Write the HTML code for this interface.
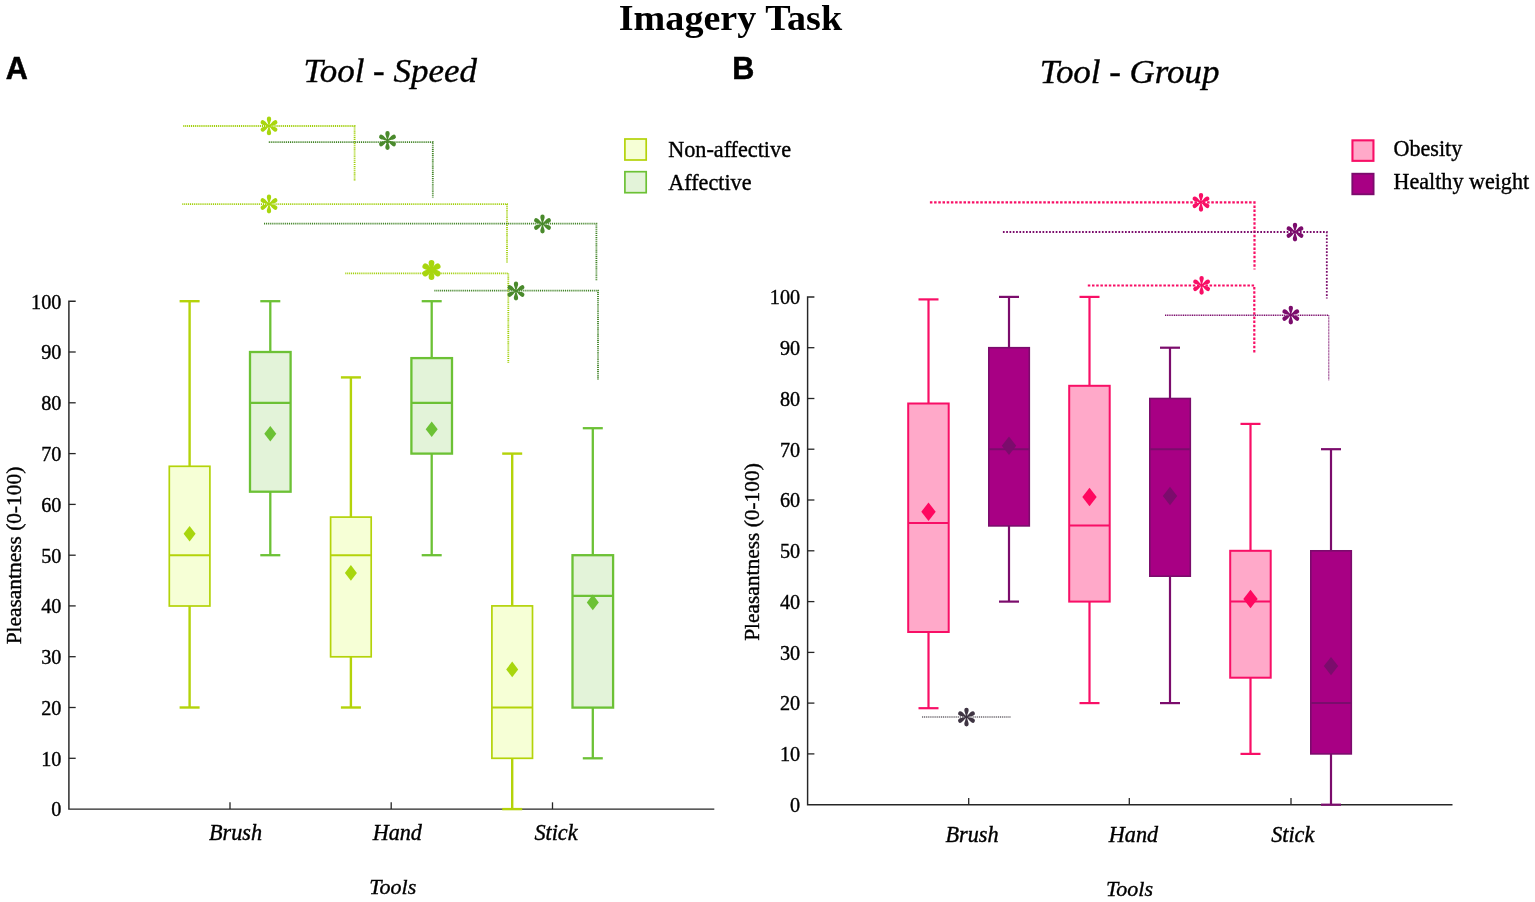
<!DOCTYPE html>
<html><head><meta charset="utf-8"><title>Imagery Task</title>
<style>
html,body{margin:0;padding:0;background:#fff;}
body{width:1535px;height:902px;overflow:hidden;}
svg{display:block;font-family:"Liberation Serif","Times New Roman",serif;fill:#000;}
.t{stroke:#000;stroke-width:0.38px;}
.sans{font-family:"Liberation Sans",Arial,sans-serif;font-weight:bold;stroke:#000;stroke-width:0.5px;}
</style></head><body>
<svg width="1535" height="902" viewBox="0 0 1535 902">
<rect width="1535" height="902" fill="#fff"/>

<text x="618.8" y="29.9" font-size="36.8" font-weight="bold" fill="#000" textLength="223.3" lengthAdjust="spacingAndGlyphs">Imagery Task</text>
<text class="sans" x="5.7" y="78.7" font-size="30.6" fill="#000">A</text>
<text class="sans" x="732.3" y="78.8" font-size="30.6" fill="#000">B</text>
<text class="t" x="390.2" y="81.5" font-size="34" font-style="italic" text-anchor="middle" textLength="173.3" lengthAdjust="spacingAndGlyphs">Tool - Speed</text>
<text class="t" x="1129.6" y="82.6" font-size="34" font-style="italic" text-anchor="middle" textLength="179.8" lengthAdjust="spacingAndGlyphs">Tool - Group</text>
<path d="M75.7,301.2 H68.9 V809.1 H714.3" fill="none" stroke="#262626" stroke-width="1.45" stroke-linejoin="miter"/><line x1="68.9" x2="75.7" y1="758.3" y2="758.3" stroke="#262626" stroke-width="1.3"/><line x1="68.9" x2="75.7" y1="707.5" y2="707.5" stroke="#262626" stroke-width="1.3"/><line x1="68.9" x2="75.7" y1="656.7" y2="656.7" stroke="#262626" stroke-width="1.3"/><line x1="68.9" x2="75.7" y1="605.9" y2="605.9" stroke="#262626" stroke-width="1.3"/><line x1="68.9" x2="75.7" y1="555.2" y2="555.2" stroke="#262626" stroke-width="1.3"/><line x1="68.9" x2="75.7" y1="504.4" y2="504.4" stroke="#262626" stroke-width="1.3"/><line x1="68.9" x2="75.7" y1="453.6" y2="453.6" stroke="#262626" stroke-width="1.3"/><line x1="68.9" x2="75.7" y1="402.8" y2="402.8" stroke="#262626" stroke-width="1.3"/><line x1="68.9" x2="75.7" y1="352.0" y2="352.0" stroke="#262626" stroke-width="1.3"/><text class="t" x="61.4" y="816.4" text-anchor="end" font-size="20.8" textLength="10.1" lengthAdjust="spacingAndGlyphs">0</text><text class="t" x="61.4" y="765.6" text-anchor="end" font-size="20.8" textLength="20.2" lengthAdjust="spacingAndGlyphs">10</text><text class="t" x="61.4" y="714.8" text-anchor="end" font-size="20.8" textLength="20.2" lengthAdjust="spacingAndGlyphs">20</text><text class="t" x="61.4" y="664.0" text-anchor="end" font-size="20.8" textLength="20.2" lengthAdjust="spacingAndGlyphs">30</text><text class="t" x="61.4" y="613.2" text-anchor="end" font-size="20.8" textLength="20.2" lengthAdjust="spacingAndGlyphs">40</text><text class="t" x="61.4" y="562.5" text-anchor="end" font-size="20.8" textLength="20.2" lengthAdjust="spacingAndGlyphs">50</text><text class="t" x="61.4" y="511.7" text-anchor="end" font-size="20.8" textLength="20.2" lengthAdjust="spacingAndGlyphs">60</text><text class="t" x="61.4" y="460.9" text-anchor="end" font-size="20.8" textLength="20.2" lengthAdjust="spacingAndGlyphs">70</text><text class="t" x="61.4" y="410.1" text-anchor="end" font-size="20.8" textLength="20.2" lengthAdjust="spacingAndGlyphs">80</text><text class="t" x="61.4" y="359.3" text-anchor="end" font-size="20.8" textLength="20.2" lengthAdjust="spacingAndGlyphs">90</text><text class="t" x="61.4" y="308.5" text-anchor="end" font-size="20.8" textLength="30.3" lengthAdjust="spacingAndGlyphs">100</text><line x1="230" x2="230" y1="809.1" y2="802.3" stroke="#262626" stroke-width="1.3"/><line x1="391.2" x2="391.2" y1="809.1" y2="802.3" stroke="#262626" stroke-width="1.3"/><line x1="552.5" x2="552.5" y1="809.1" y2="802.3" stroke="#262626" stroke-width="1.3"/><text class="t" x="235.5" y="840.2" font-style="italic" font-size="22.2" text-anchor="middle">Brush</text><text class="t" x="397.3" y="840.2" font-style="italic" font-size="22.2" text-anchor="middle">Hand</text><text class="t" x="556" y="840.2" font-style="italic" font-size="22.2" text-anchor="middle">Stick</text><text class="t" x="392.8" y="894.3" font-style="italic" font-size="22" text-anchor="middle">Tools</text><text class="t" transform="translate(20.7,555.5) rotate(-90)" font-size="21.4" text-anchor="middle">Pleasantness (0-100)</text>
<line x1="189.6" x2="189.6" y1="301.2" y2="466.3" stroke="#b4d30a" stroke-width="2.4"/><line x1="189.6" x2="189.6" y1="605.9" y2="707.5" stroke="#b4d30a" stroke-width="2.4"/><line x1="179.6" x2="199.6" y1="301.2" y2="301.2" stroke="#b4d30a" stroke-width="2.4"/><line x1="179.6" x2="199.6" y1="707.5" y2="707.5" stroke="#b4d30a" stroke-width="2.4"/><rect x="169.3" y="466.3" width="40.6" height="139.7" fill="#f6ffd6" stroke="#b4d30a" stroke-width="1.7"/><line x1="169.3" x2="209.9" y1="555.2" y2="555.2" stroke="#b4d30a" stroke-width="2.1"/><path d="M189.6,526.0 L195.6,533.8 L189.6,541.6 L183.6,533.8Z" fill="#a8d60e"/>
<line x1="270.3" x2="270.3" y1="301.2" y2="352.0" stroke="#6cc135" stroke-width="2.3"/><line x1="270.3" x2="270.3" y1="491.7" y2="555.2" stroke="#6cc135" stroke-width="2.3"/><line x1="260.3" x2="280.3" y1="301.2" y2="301.2" stroke="#6cc135" stroke-width="2.3"/><line x1="260.3" x2="280.3" y1="555.2" y2="555.2" stroke="#6cc135" stroke-width="2.3"/><rect x="250.0" y="352.0" width="40.6" height="139.7" fill="#e3f3d9" stroke="#6cc135" stroke-width="2.3"/><line x1="250.0" x2="290.6" y1="402.8" y2="402.8" stroke="#6cc135" stroke-width="2.3"/><path d="M270.3,426.0 L276.3,433.8 L270.3,441.6 L264.3,433.8Z" fill="#6cc135"/>
<line x1="350.9" x2="350.9" y1="377.4" y2="517.1" stroke="#b4d30a" stroke-width="2.4"/><line x1="350.9" x2="350.9" y1="656.7" y2="707.5" stroke="#b4d30a" stroke-width="2.4"/><line x1="340.9" x2="360.9" y1="377.4" y2="377.4" stroke="#b4d30a" stroke-width="2.4"/><line x1="340.9" x2="360.9" y1="707.5" y2="707.5" stroke="#b4d30a" stroke-width="2.4"/><rect x="330.6" y="517.1" width="40.6" height="139.7" fill="#f6ffd6" stroke="#b4d30a" stroke-width="1.7"/><line x1="330.6" x2="371.2" y1="555.2" y2="555.2" stroke="#b4d30a" stroke-width="2.1"/><path d="M350.9,565.1 L356.9,572.9 L350.9,580.7 L344.9,572.9Z" fill="#a8d60e"/>
<line x1="431.7" x2="431.7" y1="301.2" y2="358.1" stroke="#6cc135" stroke-width="2.3"/><line x1="431.7" x2="431.7" y1="453.6" y2="555.2" stroke="#6cc135" stroke-width="2.3"/><line x1="421.7" x2="441.7" y1="301.2" y2="301.2" stroke="#6cc135" stroke-width="2.3"/><line x1="421.7" x2="441.7" y1="555.2" y2="555.2" stroke="#6cc135" stroke-width="2.3"/><rect x="411.4" y="358.1" width="40.6" height="95.5" fill="#e3f3d9" stroke="#6cc135" stroke-width="2.3"/><line x1="411.4" x2="452.0" y1="402.8" y2="402.8" stroke="#6cc135" stroke-width="2.3"/><path d="M431.7,421.4 L437.7,429.2 L431.7,437.0 L425.7,429.2Z" fill="#6cc135"/>
<line x1="512.2" x2="512.2" y1="453.6" y2="605.9" stroke="#b4d30a" stroke-width="2.4"/><line x1="512.2" x2="512.2" y1="758.3" y2="809.1" stroke="#b4d30a" stroke-width="2.4"/><line x1="502.20000000000005" x2="522.2" y1="453.6" y2="453.6" stroke="#b4d30a" stroke-width="2.4"/><line x1="502.20000000000005" x2="522.2" y1="809.1" y2="809.1" stroke="#b4d30a" stroke-width="2.4"/><rect x="491.9" y="605.9" width="40.6" height="152.4" fill="#f6ffd6" stroke="#b4d30a" stroke-width="1.7"/><line x1="491.9" x2="532.5" y1="707.5" y2="707.5" stroke="#b4d30a" stroke-width="2.1"/><path d="M512.2,661.6 L518.2,669.4 L512.2,677.2 L506.20000000000005,669.4Z" fill="#a8d60e"/>
<line x1="592.8" x2="592.8" y1="428.2" y2="555.2" stroke="#6cc135" stroke-width="2.3"/><line x1="592.8" x2="592.8" y1="707.5" y2="758.3" stroke="#6cc135" stroke-width="2.3"/><line x1="582.8" x2="602.8" y1="428.2" y2="428.2" stroke="#6cc135" stroke-width="2.3"/><line x1="582.8" x2="602.8" y1="758.3" y2="758.3" stroke="#6cc135" stroke-width="2.3"/><rect x="572.5" y="555.2" width="40.6" height="152.4" fill="#e3f3d9" stroke="#6cc135" stroke-width="2.3"/><line x1="572.5" x2="613.1" y1="595.8" y2="595.8" stroke="#6cc135" stroke-width="2.3"/><path d="M592.8,594.6 L598.8,602.4 L592.8,610.2 L586.8,602.4Z" fill="#6cc135"/>
<path d="M183.3,126.0 L354.6,126.0 L354.6,180.4" fill="none" stroke="#a0cf08" stroke-width="1.8" stroke-dasharray="1.05 0.87"/>
<path d="M268.8,142.2 L432.8,142.2 L432.8,197.5" fill="none" stroke="#3f8224" stroke-width="1.8" stroke-dasharray="1.05 0.87"/>
<path d="M182.3,204.1 L507.0,204.1 L507.0,263.0" fill="none" stroke="#a0cf08" stroke-width="1.8" stroke-dasharray="1.05 0.87"/>
<path d="M264.0,223.7 L596.4,223.7 L596.4,280.3" fill="none" stroke="#3f8224" stroke-width="1.8" stroke-dasharray="1.05 0.87"/>
<path d="M345.3,273.3 L508.3,273.3 L508.3,362.8" fill="none" stroke="#a0cf08" stroke-width="1.8" stroke-dasharray="1.05 0.87"/>
<path d="M434.4,290.6 L598.0,290.6 L598.0,379.4" fill="none" stroke="#3f8224" stroke-width="1.8" stroke-dasharray="1.05 0.87"/>
<g transform="translate(269.0,125.9) scale(1.0)" fill="#a8d60e"><path transform="rotate(30)" d="M0,-0.60 C3.62,-0.70 4.35,-2.15 7.25,-2.15 A2.15,2.15 0 1 1 7.25,2.15 C4.35,2.15 3.62,0.70 0,0.60Z"/><path transform="rotate(90)" d="M0,-0.60 C3.62,-0.70 4.35,-2.15 7.25,-2.15 A2.15,2.15 0 1 1 7.25,2.15 C4.35,2.15 3.62,0.70 0,0.60Z"/><path transform="rotate(150)" d="M0,-0.60 C3.62,-0.70 4.35,-2.15 7.25,-2.15 A2.15,2.15 0 1 1 7.25,2.15 C4.35,2.15 3.62,0.70 0,0.60Z"/><path transform="rotate(210)" d="M0,-0.60 C3.62,-0.70 4.35,-2.15 7.25,-2.15 A2.15,2.15 0 1 1 7.25,2.15 C4.35,2.15 3.62,0.70 0,0.60Z"/><path transform="rotate(270)" d="M0,-0.60 C3.62,-0.70 4.35,-2.15 7.25,-2.15 A2.15,2.15 0 1 1 7.25,2.15 C4.35,2.15 3.62,0.70 0,0.60Z"/><path transform="rotate(330)" d="M0,-0.60 C3.62,-0.70 4.35,-2.15 7.25,-2.15 A2.15,2.15 0 1 1 7.25,2.15 C4.35,2.15 3.62,0.70 0,0.60Z"/></g>
<g transform="translate(387.5,140.5) scale(1.0)" fill="#4a8a2c"><path transform="rotate(30)" d="M0,-0.60 C3.62,-0.70 4.35,-2.15 7.25,-2.15 A2.15,2.15 0 1 1 7.25,2.15 C4.35,2.15 3.62,0.70 0,0.60Z"/><path transform="rotate(90)" d="M0,-0.60 C3.62,-0.70 4.35,-2.15 7.25,-2.15 A2.15,2.15 0 1 1 7.25,2.15 C4.35,2.15 3.62,0.70 0,0.60Z"/><path transform="rotate(150)" d="M0,-0.60 C3.62,-0.70 4.35,-2.15 7.25,-2.15 A2.15,2.15 0 1 1 7.25,2.15 C4.35,2.15 3.62,0.70 0,0.60Z"/><path transform="rotate(210)" d="M0,-0.60 C3.62,-0.70 4.35,-2.15 7.25,-2.15 A2.15,2.15 0 1 1 7.25,2.15 C4.35,2.15 3.62,0.70 0,0.60Z"/><path transform="rotate(270)" d="M0,-0.60 C3.62,-0.70 4.35,-2.15 7.25,-2.15 A2.15,2.15 0 1 1 7.25,2.15 C4.35,2.15 3.62,0.70 0,0.60Z"/><path transform="rotate(330)" d="M0,-0.60 C3.62,-0.70 4.35,-2.15 7.25,-2.15 A2.15,2.15 0 1 1 7.25,2.15 C4.35,2.15 3.62,0.70 0,0.60Z"/></g>
<g transform="translate(269.0,204.0) scale(1.0)" fill="#a8d60e"><path transform="rotate(30)" d="M0,-0.60 C3.62,-0.70 4.35,-2.15 7.25,-2.15 A2.15,2.15 0 1 1 7.25,2.15 C4.35,2.15 3.62,0.70 0,0.60Z"/><path transform="rotate(90)" d="M0,-0.60 C3.62,-0.70 4.35,-2.15 7.25,-2.15 A2.15,2.15 0 1 1 7.25,2.15 C4.35,2.15 3.62,0.70 0,0.60Z"/><path transform="rotate(150)" d="M0,-0.60 C3.62,-0.70 4.35,-2.15 7.25,-2.15 A2.15,2.15 0 1 1 7.25,2.15 C4.35,2.15 3.62,0.70 0,0.60Z"/><path transform="rotate(210)" d="M0,-0.60 C3.62,-0.70 4.35,-2.15 7.25,-2.15 A2.15,2.15 0 1 1 7.25,2.15 C4.35,2.15 3.62,0.70 0,0.60Z"/><path transform="rotate(270)" d="M0,-0.60 C3.62,-0.70 4.35,-2.15 7.25,-2.15 A2.15,2.15 0 1 1 7.25,2.15 C4.35,2.15 3.62,0.70 0,0.60Z"/><path transform="rotate(330)" d="M0,-0.60 C3.62,-0.70 4.35,-2.15 7.25,-2.15 A2.15,2.15 0 1 1 7.25,2.15 C4.35,2.15 3.62,0.70 0,0.60Z"/></g>
<g transform="translate(542.5,224.0) scale(1.0)" fill="#4a8a2c"><path transform="rotate(30)" d="M0,-0.60 C3.62,-0.70 4.35,-2.15 7.25,-2.15 A2.15,2.15 0 1 1 7.25,2.15 C4.35,2.15 3.62,0.70 0,0.60Z"/><path transform="rotate(90)" d="M0,-0.60 C3.62,-0.70 4.35,-2.15 7.25,-2.15 A2.15,2.15 0 1 1 7.25,2.15 C4.35,2.15 3.62,0.70 0,0.60Z"/><path transform="rotate(150)" d="M0,-0.60 C3.62,-0.70 4.35,-2.15 7.25,-2.15 A2.15,2.15 0 1 1 7.25,2.15 C4.35,2.15 3.62,0.70 0,0.60Z"/><path transform="rotate(210)" d="M0,-0.60 C3.62,-0.70 4.35,-2.15 7.25,-2.15 A2.15,2.15 0 1 1 7.25,2.15 C4.35,2.15 3.62,0.70 0,0.60Z"/><path transform="rotate(270)" d="M0,-0.60 C3.62,-0.70 4.35,-2.15 7.25,-2.15 A2.15,2.15 0 1 1 7.25,2.15 C4.35,2.15 3.62,0.70 0,0.60Z"/><path transform="rotate(330)" d="M0,-0.60 C3.62,-0.70 4.35,-2.15 7.25,-2.15 A2.15,2.15 0 1 1 7.25,2.15 C4.35,2.15 3.62,0.70 0,0.60Z"/></g>
<g transform="translate(431.5,269.9) scale(0.98)" fill="#a8d60e" stroke="#a8d60e" stroke-width="1.6" stroke-linejoin="round"><path transform="rotate(30)" d="M0,-0.60 C3.62,-0.70 4.35,-2.15 7.25,-2.15 A2.15,2.15 0 1 1 7.25,2.15 C4.35,2.15 3.62,0.70 0,0.60Z"/><path transform="rotate(90)" d="M0,-0.60 C3.62,-0.70 4.35,-2.15 7.25,-2.15 A2.15,2.15 0 1 1 7.25,2.15 C4.35,2.15 3.62,0.70 0,0.60Z"/><path transform="rotate(150)" d="M0,-0.60 C3.62,-0.70 4.35,-2.15 7.25,-2.15 A2.15,2.15 0 1 1 7.25,2.15 C4.35,2.15 3.62,0.70 0,0.60Z"/><path transform="rotate(210)" d="M0,-0.60 C3.62,-0.70 4.35,-2.15 7.25,-2.15 A2.15,2.15 0 1 1 7.25,2.15 C4.35,2.15 3.62,0.70 0,0.60Z"/><path transform="rotate(270)" d="M0,-0.60 C3.62,-0.70 4.35,-2.15 7.25,-2.15 A2.15,2.15 0 1 1 7.25,2.15 C4.35,2.15 3.62,0.70 0,0.60Z"/><path transform="rotate(330)" d="M0,-0.60 C3.62,-0.70 4.35,-2.15 7.25,-2.15 A2.15,2.15 0 1 1 7.25,2.15 C4.35,2.15 3.62,0.70 0,0.60Z"/></g>
<g transform="translate(516.0,291.0) scale(1.0)" fill="#4a8a2c"><path transform="rotate(30)" d="M0,-0.60 C3.62,-0.70 4.35,-2.15 7.25,-2.15 A2.15,2.15 0 1 1 7.25,2.15 C4.35,2.15 3.62,0.70 0,0.60Z"/><path transform="rotate(90)" d="M0,-0.60 C3.62,-0.70 4.35,-2.15 7.25,-2.15 A2.15,2.15 0 1 1 7.25,2.15 C4.35,2.15 3.62,0.70 0,0.60Z"/><path transform="rotate(150)" d="M0,-0.60 C3.62,-0.70 4.35,-2.15 7.25,-2.15 A2.15,2.15 0 1 1 7.25,2.15 C4.35,2.15 3.62,0.70 0,0.60Z"/><path transform="rotate(210)" d="M0,-0.60 C3.62,-0.70 4.35,-2.15 7.25,-2.15 A2.15,2.15 0 1 1 7.25,2.15 C4.35,2.15 3.62,0.70 0,0.60Z"/><path transform="rotate(270)" d="M0,-0.60 C3.62,-0.70 4.35,-2.15 7.25,-2.15 A2.15,2.15 0 1 1 7.25,2.15 C4.35,2.15 3.62,0.70 0,0.60Z"/><path transform="rotate(330)" d="M0,-0.60 C3.62,-0.70 4.35,-2.15 7.25,-2.15 A2.15,2.15 0 1 1 7.25,2.15 C4.35,2.15 3.62,0.70 0,0.60Z"/></g>
<rect x="624.9" y="139" width="21.3" height="21" fill="#f6ffd6" stroke="#b4d30a" stroke-width="1.7"/>
<rect x="624.9" y="171.7" width="21.3" height="21" fill="#e3f3d9" stroke="#6cc135" stroke-width="1.7"/>
<text class="t" x="668.2" y="157.3" font-size="22.2">Non-affective</text>
<text class="t" x="668.2" y="189.8" font-size="22.2">Affective</text>
<path d="M814.4,296.9 H807.6 V804.7 H1452.5" fill="none" stroke="#262626" stroke-width="1.45" stroke-linejoin="miter"/><line x1="807.6" x2="814.4" y1="753.9" y2="753.9" stroke="#262626" stroke-width="1.3"/><line x1="807.6" x2="814.4" y1="703.1" y2="703.1" stroke="#262626" stroke-width="1.3"/><line x1="807.6" x2="814.4" y1="652.4" y2="652.4" stroke="#262626" stroke-width="1.3"/><line x1="807.6" x2="814.4" y1="601.6" y2="601.6" stroke="#262626" stroke-width="1.3"/><line x1="807.6" x2="814.4" y1="550.8" y2="550.8" stroke="#262626" stroke-width="1.3"/><line x1="807.6" x2="814.4" y1="500.0" y2="500.0" stroke="#262626" stroke-width="1.3"/><line x1="807.6" x2="814.4" y1="449.2" y2="449.2" stroke="#262626" stroke-width="1.3"/><line x1="807.6" x2="814.4" y1="398.5" y2="398.5" stroke="#262626" stroke-width="1.3"/><line x1="807.6" x2="814.4" y1="347.7" y2="347.7" stroke="#262626" stroke-width="1.3"/><text class="t" x="800.1" y="812.0" text-anchor="end" font-size="20.8" textLength="10.1" lengthAdjust="spacingAndGlyphs">0</text><text class="t" x="800.1" y="761.2" text-anchor="end" font-size="20.8" textLength="20.2" lengthAdjust="spacingAndGlyphs">10</text><text class="t" x="800.1" y="710.4" text-anchor="end" font-size="20.8" textLength="20.2" lengthAdjust="spacingAndGlyphs">20</text><text class="t" x="800.1" y="659.7" text-anchor="end" font-size="20.8" textLength="20.2" lengthAdjust="spacingAndGlyphs">30</text><text class="t" x="800.1" y="608.9" text-anchor="end" font-size="20.8" textLength="20.2" lengthAdjust="spacingAndGlyphs">40</text><text class="t" x="800.1" y="558.1" text-anchor="end" font-size="20.8" textLength="20.2" lengthAdjust="spacingAndGlyphs">50</text><text class="t" x="800.1" y="507.3" text-anchor="end" font-size="20.8" textLength="20.2" lengthAdjust="spacingAndGlyphs">60</text><text class="t" x="800.1" y="456.5" text-anchor="end" font-size="20.8" textLength="20.2" lengthAdjust="spacingAndGlyphs">70</text><text class="t" x="800.1" y="405.8" text-anchor="end" font-size="20.8" textLength="20.2" lengthAdjust="spacingAndGlyphs">80</text><text class="t" x="800.1" y="355.0" text-anchor="end" font-size="20.8" textLength="20.2" lengthAdjust="spacingAndGlyphs">90</text><text class="t" x="800.1" y="304.2" text-anchor="end" font-size="20.8" textLength="30.3" lengthAdjust="spacingAndGlyphs">100</text><line x1="968.7" x2="968.7" y1="804.7" y2="797.9" stroke="#262626" stroke-width="1.3"/><line x1="1129.3" x2="1129.3" y1="804.7" y2="797.9" stroke="#262626" stroke-width="1.3"/><line x1="1291" x2="1291" y1="804.7" y2="797.9" stroke="#262626" stroke-width="1.3"/><text class="t" x="972" y="842" font-style="italic" font-size="22.2" text-anchor="middle">Brush</text><text class="t" x="1133.5" y="842" font-style="italic" font-size="22.2" text-anchor="middle">Hand</text><text class="t" x="1292.7" y="842" font-style="italic" font-size="22.2" text-anchor="middle">Stick</text><text class="t" x="1129.5" y="895.8" font-style="italic" font-size="22" text-anchor="middle">Tools</text><text class="t" transform="translate(759.3,552) rotate(-90)" font-size="21.4" text-anchor="middle">Pleasantness (0-100)</text>
<line x1="928.5" x2="928.5" y1="299.4" y2="403.5" stroke="#f80f66" stroke-width="2.2"/><line x1="928.5" x2="928.5" y1="632.0" y2="708.2" stroke="#f80f66" stroke-width="2.2"/><line x1="918.5" x2="938.5" y1="299.4" y2="299.4" stroke="#f80f66" stroke-width="2.2"/><line x1="918.5" x2="938.5" y1="708.2" y2="708.2" stroke="#f80f66" stroke-width="2.2"/><rect x="908.2" y="403.5" width="40.5" height="228.5" fill="#ffa9c9" stroke="#f80f66" stroke-width="2.0"/><line x1="908.2" x2="948.8" y1="523.1" y2="523.1" stroke="#f80f66" stroke-width="2.0"/><path d="M928.5,502.5 L935.7,511.7 L928.5,520.9 L921.3,511.7Z" fill="#ff0860"/>
<line x1="1009" x2="1009" y1="296.9" y2="347.7" stroke="#7b0c6c" stroke-width="2.2"/><line x1="1009" x2="1009" y1="525.9" y2="601.6" stroke="#7b0c6c" stroke-width="2.2"/><line x1="999.0" x2="1019.0" y1="296.9" y2="296.9" stroke="#7b0c6c" stroke-width="2.2"/><line x1="999.0" x2="1019.0" y1="601.6" y2="601.6" stroke="#7b0c6c" stroke-width="2.2"/><rect x="988.8" y="347.7" width="40.5" height="178.2" fill="#a80084" stroke="#7b0c6c" stroke-width="1.6"/><line x1="988.8" x2="1029.2" y1="449.2" y2="449.2" stroke="#7b0c6c" stroke-width="2.0"/><path d="M1009,436.5 L1016.2,445.7 L1009,454.9 L1001.8,445.7Z" fill="#7b0c6c"/>
<line x1="1089.5" x2="1089.5" y1="296.9" y2="385.8" stroke="#f80f66" stroke-width="2.2"/><line x1="1089.5" x2="1089.5" y1="601.6" y2="703.1" stroke="#f80f66" stroke-width="2.2"/><line x1="1079.5" x2="1099.5" y1="296.9" y2="296.9" stroke="#f80f66" stroke-width="2.2"/><line x1="1079.5" x2="1099.5" y1="703.1" y2="703.1" stroke="#f80f66" stroke-width="2.2"/><rect x="1069.2" y="385.8" width="40.5" height="215.8" fill="#ffa9c9" stroke="#f80f66" stroke-width="2.0"/><line x1="1069.2" x2="1109.8" y1="525.4" y2="525.4" stroke="#f80f66" stroke-width="2.0"/><path d="M1089.5,487.8 L1096.7,497.0 L1089.5,506.2 L1082.3,497.0Z" fill="#ff0860"/>
<line x1="1170" x2="1170" y1="347.7" y2="398.5" stroke="#7b0c6c" stroke-width="2.2"/><line x1="1170" x2="1170" y1="576.2" y2="703.1" stroke="#7b0c6c" stroke-width="2.2"/><line x1="1160.0" x2="1180.0" y1="347.7" y2="347.7" stroke="#7b0c6c" stroke-width="2.2"/><line x1="1160.0" x2="1180.0" y1="703.1" y2="703.1" stroke="#7b0c6c" stroke-width="2.2"/><rect x="1149.8" y="398.5" width="40.5" height="177.7" fill="#a80084" stroke="#7b0c6c" stroke-width="1.6"/><line x1="1149.8" x2="1190.2" y1="449.2" y2="449.2" stroke="#7b0c6c" stroke-width="2.0"/><path d="M1170,486.8 L1177.2,496.0 L1170,505.2 L1162.8,496.0Z" fill="#7b0c6c"/>
<line x1="1250.5" x2="1250.5" y1="423.9" y2="550.8" stroke="#f80f66" stroke-width="2.2"/><line x1="1250.5" x2="1250.5" y1="677.8" y2="753.9" stroke="#f80f66" stroke-width="2.2"/><line x1="1240.5" x2="1260.5" y1="423.9" y2="423.9" stroke="#f80f66" stroke-width="2.2"/><line x1="1240.5" x2="1260.5" y1="753.9" y2="753.9" stroke="#f80f66" stroke-width="2.2"/><rect x="1230.2" y="550.8" width="40.5" height="126.9" fill="#ffa9c9" stroke="#f80f66" stroke-width="2.0"/><line x1="1230.2" x2="1270.8" y1="601.6" y2="601.6" stroke="#f80f66" stroke-width="2.0"/><path d="M1250.5,589.8 L1257.7,599.0 L1250.5,608.2 L1243.3,599.0Z" fill="#ff0860"/>
<line x1="1331" x2="1331" y1="449.2" y2="550.8" stroke="#7b0c6c" stroke-width="2.2"/><line x1="1331" x2="1331" y1="753.9" y2="804.7" stroke="#7b0c6c" stroke-width="2.2"/><line x1="1321.0" x2="1341.0" y1="449.2" y2="449.2" stroke="#7b0c6c" stroke-width="2.2"/><line x1="1321.0" x2="1341.0" y1="804.7" y2="804.7" stroke="#7b0c6c" stroke-width="2.2"/><rect x="1310.8" y="550.8" width="40.5" height="203.1" fill="#a80084" stroke="#7b0c6c" stroke-width="1.6"/><line x1="1310.8" x2="1351.2" y1="703.1" y2="703.1" stroke="#7b0c6c" stroke-width="2.0"/><path d="M1331,656.9 L1338.2,666.1 L1331,675.3 L1323.8,666.1Z" fill="#7b0c6c"/>
<path d="M929.9,202.4 L1254.5,202.4 L1254.5,269.4" fill="none" stroke="#f80f66" stroke-width="2.2" stroke-dasharray="2.5 1.7"/>
<path d="M1002.9,232.0 L1326.8,232.0 L1326.8,298.4" fill="none" stroke="#7b0c6c" stroke-width="1.8" stroke-dasharray="1.7 1.6"/>
<path d="M1087.8,285.5 L1254.3,285.5 L1254.3,352.6" fill="none" stroke="#f80f66" stroke-width="2.2" stroke-dasharray="2.5 1.7"/>
<path d="M1165.0,315.2 L1328.8,315.2" fill="none" stroke="#7b0c6c" stroke-width="1.4" stroke-dasharray="1.1 0.7"/>
<path d="M1328.8,315.2 L1328.8,380.3" fill="none" stroke="#7b0c6c" stroke-width="1.0" stroke-dasharray="1.0 0.5"/>
<g transform="translate(1201.0,202.3) scale(1.0)" fill="#f80f66"><path transform="rotate(30)" d="M0,-0.60 C3.62,-0.70 4.35,-2.15 7.25,-2.15 A2.15,2.15 0 1 1 7.25,2.15 C4.35,2.15 3.62,0.70 0,0.60Z"/><path transform="rotate(90)" d="M0,-0.60 C3.62,-0.70 4.35,-2.15 7.25,-2.15 A2.15,2.15 0 1 1 7.25,2.15 C4.35,2.15 3.62,0.70 0,0.60Z"/><path transform="rotate(150)" d="M0,-0.60 C3.62,-0.70 4.35,-2.15 7.25,-2.15 A2.15,2.15 0 1 1 7.25,2.15 C4.35,2.15 3.62,0.70 0,0.60Z"/><path transform="rotate(210)" d="M0,-0.60 C3.62,-0.70 4.35,-2.15 7.25,-2.15 A2.15,2.15 0 1 1 7.25,2.15 C4.35,2.15 3.62,0.70 0,0.60Z"/><path transform="rotate(270)" d="M0,-0.60 C3.62,-0.70 4.35,-2.15 7.25,-2.15 A2.15,2.15 0 1 1 7.25,2.15 C4.35,2.15 3.62,0.70 0,0.60Z"/><path transform="rotate(330)" d="M0,-0.60 C3.62,-0.70 4.35,-2.15 7.25,-2.15 A2.15,2.15 0 1 1 7.25,2.15 C4.35,2.15 3.62,0.70 0,0.60Z"/></g>
<g transform="translate(1295.0,232.1) scale(1.0)" fill="#7b0c6c"><path transform="rotate(30)" d="M0,-0.60 C3.62,-0.70 4.35,-2.15 7.25,-2.15 A2.15,2.15 0 1 1 7.25,2.15 C4.35,2.15 3.62,0.70 0,0.60Z"/><path transform="rotate(90)" d="M0,-0.60 C3.62,-0.70 4.35,-2.15 7.25,-2.15 A2.15,2.15 0 1 1 7.25,2.15 C4.35,2.15 3.62,0.70 0,0.60Z"/><path transform="rotate(150)" d="M0,-0.60 C3.62,-0.70 4.35,-2.15 7.25,-2.15 A2.15,2.15 0 1 1 7.25,2.15 C4.35,2.15 3.62,0.70 0,0.60Z"/><path transform="rotate(210)" d="M0,-0.60 C3.62,-0.70 4.35,-2.15 7.25,-2.15 A2.15,2.15 0 1 1 7.25,2.15 C4.35,2.15 3.62,0.70 0,0.60Z"/><path transform="rotate(270)" d="M0,-0.60 C3.62,-0.70 4.35,-2.15 7.25,-2.15 A2.15,2.15 0 1 1 7.25,2.15 C4.35,2.15 3.62,0.70 0,0.60Z"/><path transform="rotate(330)" d="M0,-0.60 C3.62,-0.70 4.35,-2.15 7.25,-2.15 A2.15,2.15 0 1 1 7.25,2.15 C4.35,2.15 3.62,0.70 0,0.60Z"/></g>
<g transform="translate(1201.6,285.3) scale(1.0)" fill="#f80f66"><path transform="rotate(30)" d="M0,-0.60 C3.62,-0.70 4.35,-2.15 7.25,-2.15 A2.15,2.15 0 1 1 7.25,2.15 C4.35,2.15 3.62,0.70 0,0.60Z"/><path transform="rotate(90)" d="M0,-0.60 C3.62,-0.70 4.35,-2.15 7.25,-2.15 A2.15,2.15 0 1 1 7.25,2.15 C4.35,2.15 3.62,0.70 0,0.60Z"/><path transform="rotate(150)" d="M0,-0.60 C3.62,-0.70 4.35,-2.15 7.25,-2.15 A2.15,2.15 0 1 1 7.25,2.15 C4.35,2.15 3.62,0.70 0,0.60Z"/><path transform="rotate(210)" d="M0,-0.60 C3.62,-0.70 4.35,-2.15 7.25,-2.15 A2.15,2.15 0 1 1 7.25,2.15 C4.35,2.15 3.62,0.70 0,0.60Z"/><path transform="rotate(270)" d="M0,-0.60 C3.62,-0.70 4.35,-2.15 7.25,-2.15 A2.15,2.15 0 1 1 7.25,2.15 C4.35,2.15 3.62,0.70 0,0.60Z"/><path transform="rotate(330)" d="M0,-0.60 C3.62,-0.70 4.35,-2.15 7.25,-2.15 A2.15,2.15 0 1 1 7.25,2.15 C4.35,2.15 3.62,0.70 0,0.60Z"/></g>
<g transform="translate(1290.8,315.1) scale(1.0)" fill="#7b0c6c"><path transform="rotate(30)" d="M0,-0.60 C3.62,-0.70 4.35,-2.15 7.25,-2.15 A2.15,2.15 0 1 1 7.25,2.15 C4.35,2.15 3.62,0.70 0,0.60Z"/><path transform="rotate(90)" d="M0,-0.60 C3.62,-0.70 4.35,-2.15 7.25,-2.15 A2.15,2.15 0 1 1 7.25,2.15 C4.35,2.15 3.62,0.70 0,0.60Z"/><path transform="rotate(150)" d="M0,-0.60 C3.62,-0.70 4.35,-2.15 7.25,-2.15 A2.15,2.15 0 1 1 7.25,2.15 C4.35,2.15 3.62,0.70 0,0.60Z"/><path transform="rotate(210)" d="M0,-0.60 C3.62,-0.70 4.35,-2.15 7.25,-2.15 A2.15,2.15 0 1 1 7.25,2.15 C4.35,2.15 3.62,0.70 0,0.60Z"/><path transform="rotate(270)" d="M0,-0.60 C3.62,-0.70 4.35,-2.15 7.25,-2.15 A2.15,2.15 0 1 1 7.25,2.15 C4.35,2.15 3.62,0.70 0,0.60Z"/><path transform="rotate(330)" d="M0,-0.60 C3.62,-0.70 4.35,-2.15 7.25,-2.15 A2.15,2.15 0 1 1 7.25,2.15 C4.35,2.15 3.62,0.70 0,0.60Z"/></g>
<path d="M922.0,717.0 L1010.9,717.0" fill="none" stroke="#6a656c" stroke-width="1.5" stroke-dasharray="1.1 0.8"/>
<g transform="translate(966.5,717.1) scale(1.0)" fill="#3f3543"><path transform="rotate(30)" d="M0,-0.60 C3.62,-0.70 4.35,-2.15 7.25,-2.15 A2.15,2.15 0 1 1 7.25,2.15 C4.35,2.15 3.62,0.70 0,0.60Z"/><path transform="rotate(90)" d="M0,-0.60 C3.62,-0.70 4.35,-2.15 7.25,-2.15 A2.15,2.15 0 1 1 7.25,2.15 C4.35,2.15 3.62,0.70 0,0.60Z"/><path transform="rotate(150)" d="M0,-0.60 C3.62,-0.70 4.35,-2.15 7.25,-2.15 A2.15,2.15 0 1 1 7.25,2.15 C4.35,2.15 3.62,0.70 0,0.60Z"/><path transform="rotate(210)" d="M0,-0.60 C3.62,-0.70 4.35,-2.15 7.25,-2.15 A2.15,2.15 0 1 1 7.25,2.15 C4.35,2.15 3.62,0.70 0,0.60Z"/><path transform="rotate(270)" d="M0,-0.60 C3.62,-0.70 4.35,-2.15 7.25,-2.15 A2.15,2.15 0 1 1 7.25,2.15 C4.35,2.15 3.62,0.70 0,0.60Z"/><path transform="rotate(330)" d="M0,-0.60 C3.62,-0.70 4.35,-2.15 7.25,-2.15 A2.15,2.15 0 1 1 7.25,2.15 C4.35,2.15 3.62,0.70 0,0.60Z"/></g>
<rect x="1352.45" y="140.35" width="21.0" height="20.5" fill="#ffa9c9" stroke="#f80f66" stroke-width="2.1"/>
<rect x="1352.3" y="173.7" width="21.3" height="20.6" fill="#a80084" stroke="#7b0c6c" stroke-width="1.8"/>
<text class="t" x="1393.5" y="156.1" font-size="22.1">Obesity</text>
<text class="t" x="1393.5" y="188.8" font-size="22.1">Healthy weight</text>
</svg></body></html>
